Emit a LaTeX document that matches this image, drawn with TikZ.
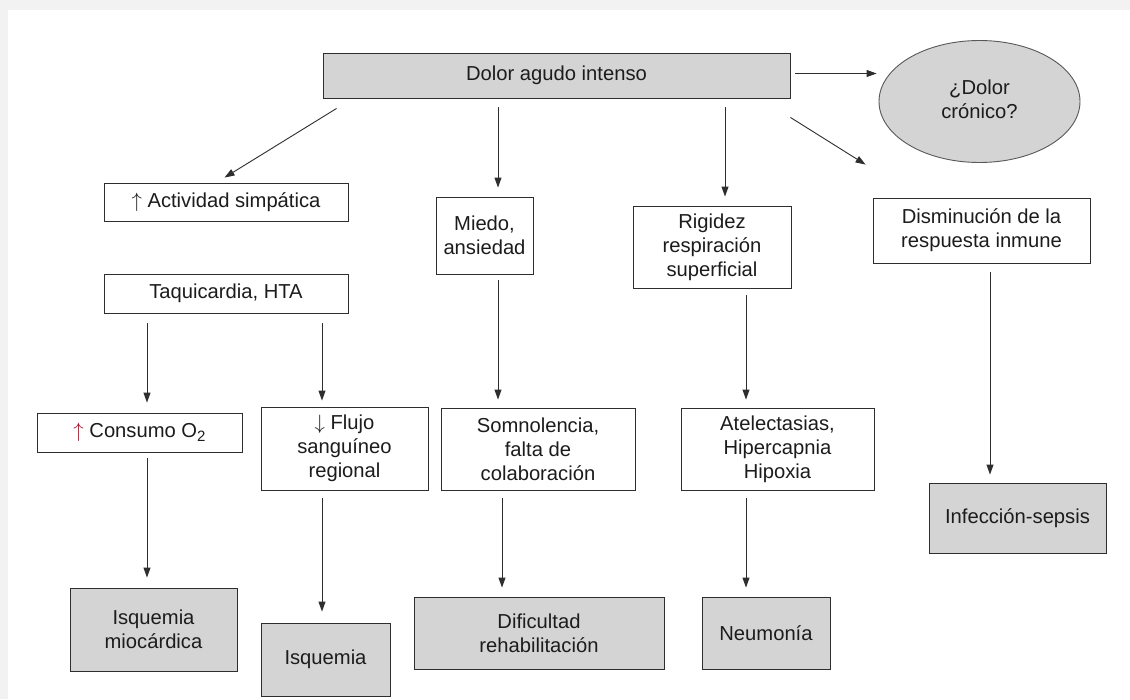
\documentclass[tikz,border=0pt]{standalone}
\usepackage{fontspec}
\setmainfont{Liberation Sans}
\usetikzlibrary{arrows.meta,shapes.geometric}
\definecolor{boxgray}{HTML}{D4D4D4}
\definecolor{linegray}{HTML}{2E2E2E}
\definecolor{txt}{HTML}{1C1C1C}
\definecolor{arrred}{HTML}{A0142A}
\definecolor{frame}{HTML}{F2F2F2}
\tikzset{
  base/.style={draw=linegray, line width=0.9pt, text=txt, align=center, inner sep=0pt,
    font=\fontsize{20.2}{24}\selectfont},
  wbox/.style={base, fill=white},
  gbox/.style={base, fill=boxgray},
  arr/.style={draw=linegray, line width=0.9pt, -{Triangle[length=10pt,width=7pt]}},
}
\begin{document}
\begin{tikzpicture}[x=1pt,y=-1pt]
\useasboundingbox (0,0) rectangle (1130,699);
\fill[white] (0,0) rectangle (1130,699);
\fill[frame] (0,0) rectangle (1130,10);
\fill[frame] (0,0) rectangle (8,699);

% nodes
\node[gbox, minimum width=467pt, minimum height=45pt] (top) at (556.5,75.5) {Dolor agudo intenso};
\node[base, ellipse, fill=boxgray, draw=linegray!80, minimum width=201pt, minimum height=122pt] (ell) at (979.5,101.5)
  {\raisebox{6pt}{\begin{tabular}{@{}c@{}}¿Dolor\\crónico?\end{tabular}}};
\node[wbox, minimum width=244pt, minimum height=38pt] (act) at (226,202) {$\uparrow$ Actividad simpática};
\node[wbox, minimum width=244pt, minimum height=39pt] (taq) at (226,293.5) {Taquicardia, HTA};
\node[wbox, minimum width=97pt, minimum height=77pt] (mie) at (484.5,235.5) {Miedo,\\ansiedad};
\node[wbox, minimum width=158pt, minimum height=82pt] (rig) at (712,247) {Rigidez\\respiración\\superficial};
\node[wbox, minimum width=217pt, minimum height=65pt] (dis) at (981.5,230.5) {Disminución de la\\respuesta inmune};
\node[wbox, minimum width=205pt, minimum height=39pt] (con) at (139.5,432.5) {{\color{arrred}$\uparrow$} Consumo O\raisebox{-0.35ex}{\fontsize{15}{15}\selectfont 2}};
\node[wbox, minimum width=167pt, minimum height=83pt] (flu) at (344.5,448.5) {$\downarrow$ Flujo\\sanguíneo\\regional};
\node[wbox, minimum width=194pt, minimum height=82pt] (som) at (538,449) {Somnolencia,\\falta de\\colaboración};
\node[wbox, minimum width=193pt, minimum height=82pt] (ate) at (777.5,449) {Atelectasias,\\Hipercapnia\\Hipoxia};
\node[gbox, minimum width=177pt, minimum height=70pt] (inf) at (1017.5,518) {Infección-sepsis};
\node[gbox, minimum width=167pt, minimum height=83pt] (ism) at (153.5,629.5) {Isquemia\\miocárdica};
\node[gbox, minimum width=129pt, minimum height=73pt] (isq) at (325.5,659.5) {Isquemia};
\node[gbox, minimum width=250pt, minimum height=72pt] (dif) at (539,633) {Dificultad\\rehabilitación};
\node[gbox, minimum width=128pt, minimum height=72pt] (neu) at (766,633) {Neumonía};

% x positions of vertical connectors
\coordinate (xa) at (498,0);
\coordinate (xb) at (725,0);
\coordinate (xc) at (147,0);
\coordinate (xd) at (322,0);
\coordinate (xe) at (502,0);
\coordinate (xf) at (746,0);
\coordinate (xg) at (990,0);

% connectors
\draw[arr, shorten <=5pt, shorten >=2pt] ([yshift=2pt]top.east) -- ([yshift=2pt]top.east -| ell.west);
\draw[arr] ([xshift=14pt,yshift=-10pt]top.south west) -- ([xshift=121pt,yshift=5pt]act.north west);
\draw[arr] ([yshift=-19pt]top.south east) -- ([xshift=-7pt,yshift=33pt]dis.north west);
\draw[arr, shorten <=9pt, shorten >=9pt] (top.south -| xa) -- (mie.north -| xa);
\draw[arr, shorten <=9pt, shorten >=9pt] (top.south -| xb) -- (rig.north -| xb);
\draw[arr, shorten <=10pt, shorten >=10pt] (taq.south -| xc) -- (con.north -| xc);
\draw[arr, shorten <=10pt, shorten >=6pt] (taq.south -| xd) -- (flu.north -| xd);
\draw[arr, shorten <=6pt, shorten >=10pt] (con.south -| xc) -- (ism.north -| xc);
\draw[arr, shorten <=8pt, shorten >=11pt] (flu.south -| xd) -- (isq.north -| xd);
\draw[arr, shorten <=6pt, shorten >=8pt] (mie.south -| xa) -- (som.north -| xa);
\draw[arr, shorten <=8pt, shorten >=9pt] (som.south -| xe) -- (dif.north -| xe);
\draw[arr, shorten <=7pt, shorten >=8pt] (rig.south -| xf) -- (ate.north -| xf);
\draw[arr, shorten <=8pt, shorten >=9pt] (ate.south -| xf) -- (neu.north -| xf);
\draw[arr, shorten <=9pt, shorten >=8pt] (dis.south -| xg) -- (inf.north -| xg);
\end{tikzpicture}
\end{document}
